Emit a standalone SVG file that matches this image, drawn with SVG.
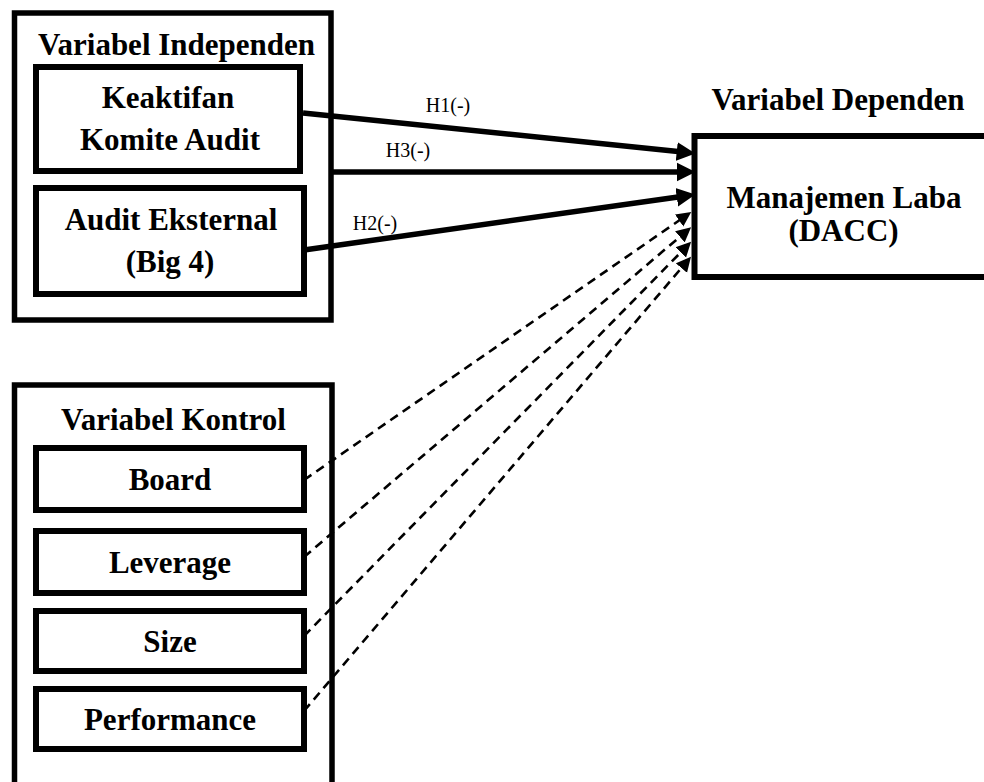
<svg xmlns="http://www.w3.org/2000/svg" width="984" height="782" viewBox="0 0 984 782">
<style>
  .box { fill: #fff; stroke: #000; stroke-width: 6; }
  .outer { fill: #fff; stroke: #000; stroke-width: 5.5; }
  .t { font-family: "Liberation Serif", "Times New Roman", serif; font-weight: bold; font-size: 31px; fill: #000; text-anchor: middle; }
  .h { font-family: "Liberation Serif", "Times New Roman", serif; font-size: 20px; fill: #000; text-anchor: middle; }
  .solid { stroke: #000; stroke-width: 5.5; fill: none; }
  .dash { stroke: #000; stroke-width: 2.6; fill: none; stroke-dasharray: 9 6; }
</style>
<defs>
  <marker id="ah" markerUnits="userSpaceOnUse" markerWidth="20" markerHeight="20" viewBox="0 -8 16 16" refX="1" refY="0" orient="auto">
    <path d="M0,-7.5 L15,0 L0,7.5 z" fill="#000"/>
  </marker>
  <marker id="ahs" markerUnits="userSpaceOnUse" markerWidth="16" markerHeight="16" viewBox="0 -6 13 12" refX="1" refY="0" orient="auto">
    <path d="M0,-6 L12,0 L0,6 z" fill="#000"/>
  </marker>
</defs>

<g id="independen">
  <rect class="outer" x="14.5" y="13" width="316.5" height="307"/>
  <text class="t" x="176.5" y="55">Variabel Independen</text>
</g>
<g id="keaktifan">
  <rect class="box" x="36" y="67" width="264" height="104"/>
  <text class="t" x="168" y="108">Keaktifan</text>
  <text class="t" x="170" y="150">Komite Audit</text>
</g>
<g id="audit-eksternal">
  <rect class="box" x="36" y="188" width="268" height="106"/>
  <text class="t" x="171" y="230">Audit Eksternal</text>
  <text class="t" x="170" y="272">(Big 4)</text>
</g>

<g id="kontrol">
  <rect class="outer" x="14.5" y="385" width="317.5" height="420"/>
  <text class="t" x="173.5" y="430">Variabel Kontrol</text>
</g>
<g id="board">
  <rect class="box" x="36" y="448" width="268" height="62"/>
  <text class="t" x="170" y="490">Board</text>
</g>
<g id="leverage">
  <rect class="box" x="36" y="531" width="268" height="62"/>
  <text class="t" x="170" y="573">Leverage</text>
</g>
<g id="size">
  <rect class="box" x="36" y="611" width="268" height="60"/>
  <text class="t" x="170" y="652">Size</text>
</g>
<g id="performance">
  <rect class="box" x="36" y="689" width="268" height="60"/>
  <text class="t" x="170" y="730">Performance</text>
</g>

<g id="dependen">
  <text class="t" x="838" y="110">Variabel Dependen</text>
  <rect class="box" x="694.5" y="136" width="300" height="141"/>
  <text class="t" x="844" y="208">Manajemen Laba</text>
  <text class="t" x="843.5" y="241">(DACC)</text>
</g>

<g id="connectors">
  <line class="solid" x1="303" y1="113" x2="678" y2="151.6" marker-end="url(#ah)"/>
  <line class="solid" x1="333" y1="172" x2="678" y2="172" marker-end="url(#ah)"/>
  <line class="solid" x1="304" y1="250" x2="678" y2="197" marker-end="url(#ah)"/>
  <line class="dash" x1="304" y1="480" x2="680.1" y2="219.8" marker-end="url(#ahs)"/>
  <line class="dash" x1="304" y1="557" x2="680.8" y2="236" marker-end="url(#ahs)"/>
  <line class="dash" x1="304" y1="636" x2="681.6" y2="251.5" marker-end="url(#ahs)"/>
  <line class="dash" x1="304" y1="711" x2="682.2" y2="267.1" marker-end="url(#ahs)"/>
  <text class="h" x="448" y="112">H1(-)</text>
  <text class="h" x="408" y="157">H3(-)</text>
  <text class="h" x="375" y="230">H2(-)</text>
</g>
</svg>
